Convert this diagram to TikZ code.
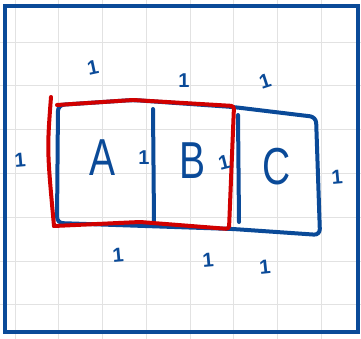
\documentclass[tikz,border=0pt]{standalone}
\usepackage{fontspec}
\usepackage{graphicx}
\setmainfont{Liberation Sans}
\definecolor{inkblue}{HTML}{0A4A98}
\definecolor{inkred}{HTML}{D00000}
\definecolor{gridgray}{HTML}{E2E2E2}
\newcommand{\narrow}[1]{\scalebox{0.75}[1]{#1}}
\begin{document}
\begin{tikzpicture}[x=1pt, y=-1pt,
        pen/.style={line width=4pt, line cap=round, line join=round},
        letter/.style={inkblue, font=\fontsize{52}{52}\selectfont, inner sep=0pt},
        len/.style={inkblue, font=\fontsize{20}{20}\selectfont\bfseries, inner sep=0pt}]
        \useasboundingbox (0,0) rectangle (361,339);

        % Squared paper
        \begin{scope}
            \clip (0,0) rectangle (361,339);
            \foreach \i in {0,...,7} {
                \draw[gridgray, line width=1pt] (15+43.75*\i,0) -- (15+43.75*\i,339);
            }
            \foreach \i in {1,...,7} {
                \draw[gridgray, line width=1pt] (0,-1.5+43.75*\i) -- (361,-1.5+43.75*\i);
            }
        \end{scope}

        % Frame
        \draw[inkblue, line width=4.5pt] (5,6) rectangle (358,332);

        % Three cells A, B, C
        \coordinate (tl) at (58,105);
        \coordinate (bl) at (57,223);
        \draw[pen, inkblue, rounded corners=6pt]
            (tl) -- (133,100) -- (233,107) -- (316,117) -- (320,235) -- (233,229) -- (bl) -- cycle;
        \draw[pen, inkblue] (153,109) -- (154,222);
        \draw[pen, inkblue] (238,115) -- (239,222);

        % Red outline round A and B
        \draw[pen, inkred] (51,97) .. controls (47,150) .. (54,226);
        \draw[pen, inkred, rounded corners=3pt]
            (54,226) -- (140,222) -- (229,229) -- (234,106) -- (133,100) -- (57,105);

        % Cell names
        \node[letter] (A) at (103,158) {\narrow{A}};
        \node[letter] (B) at (193,161) {\narrow{B}};
        \node[letter] (C) at (277,167) {\narrow{C}};

        % Unit lengths
        \foreach \p/\a [count=\i] in {(93,68)/12, (184,81)/0, (265,81)/18,
                (20,160)/5, (144,158)/0, (224,162)/14, (337,177)/5,
                (118,255)/5, (208,260)/5, (265,267)/6} {
            \node[len, rotate=\a] (t\i) at \p {1};
        }
\end{tikzpicture}
\end{document}
